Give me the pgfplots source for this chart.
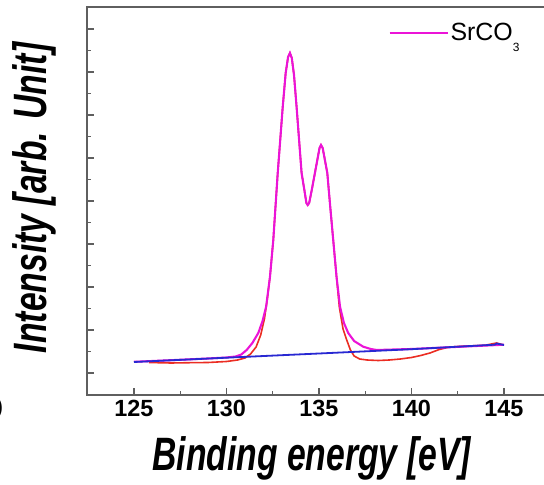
\documentclass[border=0pt]{standalone}
\usepackage{fontspec}
\setmainfont{Liberation Sans}
\newfontfamily\condfont[FakeStretch=0.72]{Liberation Sans}
\usepackage{pgfplots}
\pgfplotsset{compat=1.18}

\definecolor{srmag}{RGB}{235,20,215}
\definecolor{srred}{RGB}{235,45,35}
\definecolor{srblue}{RGB}{40,40,210}
\definecolor{axisgray}{RGB}{95,95,95}

\begin{document}
\begin{tikzpicture}
\begin{axis}[
    scale only axis,
    width=461bp, height=388bp,
    xmin=122.46, xmax=147.38,
    ymin=0, ymax=388,
    xtick={125,130,...,145},
    minor x tick num=1,
    ytick={22,65,...,366},
    yticklabels={},
    minor y tick num=1,
    xtick pos=left, ytick pos=left,
    tick align=inside,
    major tick length=7bp, minor tick length=4bp,
    axis line style={draw=axisgray, line width=1.6bp},
    every tick/.style={draw=axisgray, line width=1.4bp},
    xticklabel={\fontsize{23.5}{26}\selectfont\bfseries\pgfmathprintnumber[assume math mode=true]{\tick}},
    xticklabel style={inner sep=5bp},
    xlabel={Binding energy [eV]},
    ylabel={Intensity [arb. Unit]},
    every axis x label/.style={at={(rel axis cs:0.487,-0.1933)}, anchor=base,
        font=\condfont\fontsize{47}{50}\selectfont\bfseries\itshape},
    every axis y label/.style={at={(rel axis cs:-0.0889,0.508)}, rotate=90, anchor=base,
        font=\condfont\fontsize{47}{50}\selectfont\bfseries\itshape},
    legend style={at={(rel axis cs:0.654,0.933)}, anchor=west, draw=none,
        fill=none, inner sep=0pt, outer sep=0pt,
        font=\fontsize{25}{28}\selectfont},
    legend image code/.code={\draw[#1] (0bp,0bp) -- (58bp,0bp);},
    clip=false,
]

% measured spectrum
\addplot[srred, line width=1.6bp, forget plot] coordinates {
    (125.8,32.5) (127,32) (128,32.3) (129,32.5) (130,33.5) (130.6,35)
    (131.0,37) (131.3,41) (131.6,48) (131.85,60) (132.05,76) (132.2,95)
    (132.35,118) (132.53,155) (132.77,222) (133.04,288) (133.2,322)
    (133.33,338) (133.43,342) (133.53,337) (133.65,320) (133.79,288)
    (134.06,222) (134.21,205) (134.32,192) (134.39,190) (134.47,192)
    (134.61,205) (134.91,235) (135.03,247) (135.11,250) (135.2,247)
    (135.32,235) (135.45,222) (135.6,190) (135.77,155) (135.95,118)
    (136.1,88) (136.3,66) (136.5,55) (136.7,45) (136.9,39) (137.2,36)
    (137.6,35) (138.2,34.5) (138.8,35) (139.4,36) (140,37.5) (140.5,39.5)
    (141,42) (141.5,45.5) (142,47.8) (142.5,48.5) (143,49) (143.5,49.3)
    (144,49.8) (144.6,52) (144.9,50.5)
};

% fitted envelope
\addplot[srmag, line width=2.1bp] coordinates {
    (125,33.2) (127,34.8) (129,36.5) (130,37.5) (130.5,38.5) (130.8,40.5)
    (131.09,45) (131.4,52) (131.72,62) (131.95,74) (132.14,88) (132.35,118)
    (132.53,155) (132.77,222) (133.04,288) (133.2,322) (133.33,338)
    (133.43,342) (133.53,337) (133.65,320) (133.79,288) (134.06,222)
    (134.21,205) (134.32,192) (134.39,190) (134.47,192) (134.61,205)
    (134.91,235) (135.03,247) (135.11,250) (135.2,247) (135.32,235)
    (135.45,222) (135.6,190) (135.77,155) (135.95,118) (136.14,88)
    (136.35,72) (136.58,62) (136.9,54) (137.39,48.3) (137.8,46)
    (138.12,45) (140,46) (142,47.7) (145,50.3)
};
\addlegendentry{SrCO\raisebox{-11bp}{\fontsize{12}{12}\selectfont 3}}

% background
\addplot[srblue, line width=1.8bp, forget plot] coordinates {
    (125,33) (130,37.3) (135,41.5) (140,45.8) (144.5,50.3) (144.6,51.5) (145,50)
};

\node[anchor=east, font=\fontsize{24}{26}\selectfont] at (rel axis cs:-0.174,-0.0335) {)};

\end{axis}
\pgfresetboundingbox
\path (current axis.south west) ++(-87bp,-90bp) rectangle ++(544bp,485bp);
\end{tikzpicture}
\end{document}
